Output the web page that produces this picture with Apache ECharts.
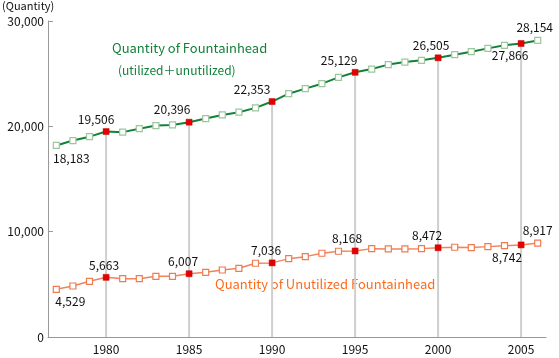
<!DOCTYPE html>
<html>
<head>
<meta charset="utf-8">
<script src="https://cdn.jsdelivr.net/npm/echarts@6/dist/echarts.min.js"></script>
<style>
html,body{margin:0;padding:0;background:#fff;}
#chart{width:559px;height:358px;}
</style>
</head>
<body>
<div id="chart"></div>
<script>
var years = [1977,1978,1979,1980,1981,1982,1983,1984,1985,1986,1987,1988,1989,1990,1991,1992,1993,1994,1995,1996,1997,1998,1999,2000,2001,2002,2003,2004,2005,2006];
var totalValues = [18183,18650,19020,19506,19450,19780,20070,20130,20396,20740,21080,21340,21750,22353,23100,23580,24050,24650,25129,25440,25860,26100,26270,26505,26800,27090,27400,27690,27866,28154];
var unutilizedValues = [4529,4840,5290,5663,5540,5540,5760,5760,6007,6140,6360,6520,7000,7036,7440,7630,7950,8140,8168,8390,8360,8360,8390,8472,8520,8490,8580,8670,8742,8917];
var labeledIndices = [0,3,8,13,18,23,28,29];
var yTicks = [0,10000,20000,30000];

// label placement (style only): [dx, below?]
var totalLabelPos = {0:[15,true],3:[-10,false],8:[-17,false],13:[-20,false],18:[-16,false],23:[-7,false],28:[-11,true],29:[-3,false]};
var unutilLabelPos = {0:[14,true],3:[-2,false],8:[-6,false],13:[-6,false],18:[-8,false],23:[-11,false],28:[-14,true],29:[0,false]};

function fmt(v){ return v.toString().replace(/\B(?=(\d{3})+(?!\d))/g, ','); }

function buildData(vals, posMap, hollowColor){
  return vals.map(function(v,i){
    var item = {value: v};
    var isFive = years[i] % 5 === 0;
    item.itemStyle = isFive ? {color:'#e60000', borderColor:'#c00000', borderWidth:0.5}
                            : {color:'#ffffff', borderColor:hollowColor, borderWidth:1.2};
    if (labeledIndices.indexOf(i) >= 0) {
      var p = posMap[i];
      item.label = {show:true, position: p[1] ? 'bottom' : 'top', distance: 3, offset:[p[0],0],
        formatter: fmt(v), color:'#111', fontSize:12, fontFamily:'Noto Sans CJK JP'};
    }
    return item;
  });
}

var dropLines = totalValues.map(function(v,i){ return years[i] % 5 === 0 ? v : '-'; });

var chart = echarts.init(document.getElementById('chart'), null, {renderer:'canvas'});
chart.setOption({
  animation:false,
  backgroundColor:'#fff',
  grid:{left:48, right:13, top:21, bottom:21, containLabel:false},
  xAxis:{
    type:'category', data: years.map(String), boundaryGap:true,
    axisLine:{show:true, lineStyle:{color:'#999', width:1}},
    axisTick:{show:false},
    axisLabel:{interval:0, formatter:function(v){ return (+v)%5===0 ? v : ''; }, color:'#111', fontSize:12, fontFamily:'Noto Sans CJK JP', margin:6},
    splitLine:{show:false}
  },
  yAxis:{
    type:'value', min:yTicks[0], max:yTicks[yTicks.length-1], interval:10000,
    axisLine:{show:true, lineStyle:{color:'#999', width:1}},
    axisTick:{show:true, inside:true, length:5, lineStyle:{color:'#999'}},
    axisLabel:{formatter:function(v){return fmt(v);}, color:'#111', fontSize:12, fontFamily:'Noto Sans CJK JP', margin:4},
    splitLine:{show:false}
  },
  series:[
    {type:'bar', data:dropLines, barWidth:2, itemStyle:{color:'#cfcfcf'}, silent:true, z:1},
    {type:'line', data: buildData(totalValues, totalLabelPos, '#9cc79c'), symbol:'rect', symbolSize:6,
     lineStyle:{color:'#12813a', width:2}, z:3},
    {type:'line', data: buildData(unutilizedValues, unutilLabelPos, '#f07b4f'), symbol:'rect', symbolSize:6,
     lineStyle:{color:'#f0845a', width:1.5}, z:3}
  ],
  graphic:[
    {type:'text', left:2, top:0, style:{text:'(Quantity)', fill:'#111', fontSize:11, fontFamily:'Noto Sans CJK JP'}},
    {type:'text', left:112, top:42, style:{text:'Quantity of Fountainhead', fill:'#12813a', fontSize:13, fontFamily:'Noto Sans CJK JP'}},
    {type:'text', left:118, top:64, style:{text:'(utilized＋unutilized)', fill:'#12813a', fontSize:12, fontFamily:'Noto Sans CJK JP'}},
    {type:'text', left:215, top:278, style:{text:'Quantity of Unutilized Fountainhead', fill:'#ff6a1a', fontSize:13, fontFamily:'Noto Sans CJK JP'}}
  ]
});
</script>
</body>
</html>
